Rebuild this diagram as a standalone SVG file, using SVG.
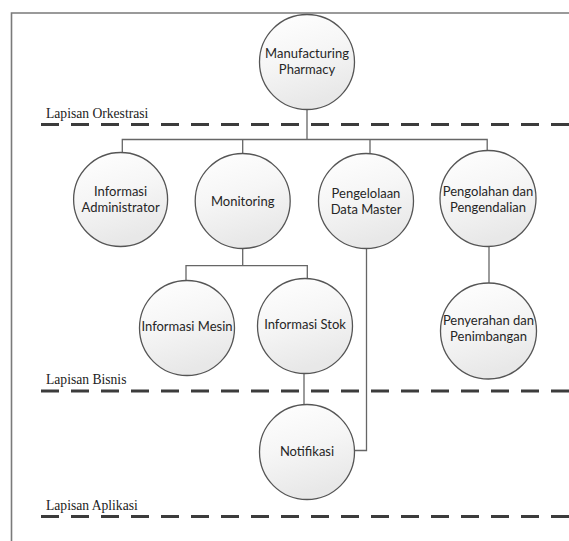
<svg xmlns="http://www.w3.org/2000/svg" width="569" height="541" viewBox="0 0 569 541">
<defs>
<linearGradient id="g" x1="0" y1="0" x2="0.3" y2="1">
<stop offset="0" stop-color="#ffffff"/>
<stop offset="0.5" stop-color="#f6f6f6"/>
<stop offset="1" stop-color="#e8e8e8"/>
</linearGradient>
<style>
.n{fill:url(#g);stroke:#555;stroke-width:1.3}
.t{font-family:Lato,"Liberation Sans",sans-serif;font-size:13px;fill:#262626;text-anchor:middle}
.c{fill:none;stroke:#666;stroke-width:1.3}
.d{fill:none;stroke:#3c3c3c;stroke-width:3;stroke-dasharray:18 12}
.l{font-family:"Liberation Serif",serif;font-size:13.6px;fill:#222}
</style>
</defs>
<rect width="569" height="541" fill="#fff"/>
<path d="M11.5,541 V13 H569" fill="none" stroke="#7a7a7a" stroke-width="1.6"/>
<g id="layers">
<text class="l" x="46" y="118">Lapisan Orkestrasi</text>
<line class="d" x1="41" y1="124.5" x2="569" y2="124.5"/>
<text class="l" x="46" y="384">Lapisan Bisnis</text>
<line class="d" x1="41" y1="391" x2="569" y2="391"/>
<text class="l" x="46" y="510">Lapisan Aplikasi</text>
<line class="d" x1="41" y1="516.5" x2="569" y2="516.5"/>
</g>
<g id="connectors">
<path class="c" d="M307,110 V139.5 M122.3,153 V139.5 H487.2 V151 M242.7,139.5 V153 M370,139.5 V154"/>
<path class="c" d="M242.7,249 V265.7 M186,281 V265.7 H307.3 V279"/>
<path class="c" d="M489,246 V283"/>
<path class="c" d="M304,371 V404"/>
<path class="c" d="M366.5,249 V450.5 H355"/>
</g>
<g id="manufacturing">
<circle class="n" cx="307" cy="62" r="47.5"/>
<text class="t" x="307" y="58">Manufacturing</text>
<text class="t" x="307" y="74">Pharmacy</text>
</g>
<g id="informasi-administrator">
<circle class="n" cx="120.6" cy="199.5" r="47"/>
<text class="t" x="120.6" y="196">Informasi</text>
<text class="t" x="120.6" y="212">Administrator</text>
</g>
<g id="monitoring">
<circle class="n" cx="242.7" cy="201" r="47.5"/>
<text class="t" x="242.7" y="206">Monitoring</text>
</g>
<g id="pengelolaan">
<circle class="n" cx="366" cy="201" r="47.5"/>
<text class="t" x="366" y="198">Pengelolaan</text>
<text class="t" x="366" y="214">Data Master</text>
</g>
<g id="pengolahan">
<circle class="n" cx="488" cy="198.5" r="48"/>
<text class="t" x="488" y="196">Pengolahan dan</text>
<text class="t" x="488" y="212">Pengendalian</text>
</g>
<g id="informasi-mesin">
<circle class="n" cx="187" cy="328" r="47.5"/>
<text class="t" x="187" y="331">Informasi Mesin</text>
</g>
<g id="informasi-stok">
<circle class="n" cx="305" cy="326" r="47.5"/>
<text class="t" x="305" y="328.5">Informasi Stok</text>
</g>
<g id="penyerahan">
<circle class="n" cx="488.5" cy="331" r="48"/>
<text class="t" x="488.5" y="325">Penyerahan dan</text>
<text class="t" x="488.5" y="341">Penimbangan</text>
</g>
<g id="notifikasi">
<circle class="n" cx="307" cy="452" r="47.5"/>
<text class="t" x="307" y="456">Notifikasi</text>
</g>
</svg>
